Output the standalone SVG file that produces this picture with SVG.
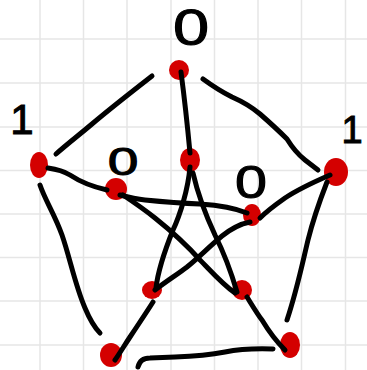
<svg xmlns="http://www.w3.org/2000/svg" width="367" height="370" viewBox="0 0 367 370">
<style>
.grid line{stroke:#e6e6e6;stroke-width:1.5}
.edge{fill:none;stroke:#000;stroke-width:5;stroke-linecap:round;stroke-linejoin:round}
.node{fill:#d40000}
.lbl{font-family:"Liberation Sans",Arial,sans-serif;fill:#000;stroke:#000;stroke-width:1;text-anchor:middle}
</style>
<rect width="367" height="370" fill="#fff"/>
<g class="grid">
<line x1="40" y1="0" x2="40" y2="370"/><line x1="83.5" y1="0" x2="83.5" y2="370"/><line x1="127" y1="0" x2="127" y2="370"/><line x1="171" y1="0" x2="171" y2="370"/><line x1="214.5" y1="0" x2="214.5" y2="370"/><line x1="258" y1="0" x2="258" y2="370"/><line x1="301.5" y1="0" x2="301.5" y2="370"/><line x1="345.5" y1="0" x2="345.5" y2="370"/>
<line x1="0" y1="39" x2="367" y2="39"/><line x1="0" y1="83" x2="367" y2="83"/><line x1="0" y1="127" x2="367" y2="127"/><line x1="0" y1="170.5" x2="367" y2="170.5"/><line x1="0" y1="214" x2="367" y2="214"/><line x1="0" y1="257.5" x2="367" y2="257.5"/><line x1="0" y1="301" x2="367" y2="301"/><line x1="0" y1="345" x2="367" y2="345"/>
</g>
<g id="labels">
<text class="lbl" font-size="50" transform="translate(191,45) scale(1.3,1)">0</text>
<text class="lbl" font-size="38" transform="translate(123,175) scale(1.45,1)">0</text>
<text class="lbl" font-size="46" transform="translate(251,198) scale(1.25,1)">0</text>
<text class="lbl" font-size="42" x="22" y="134">1</text>
<text class="lbl" font-size="38" x="352" y="143">1</text>
</g>
<g id="n-top"><ellipse class="node" cx="179" cy="70" rx="10" ry="10"/></g>
<g id="n-outer-left"><ellipse class="node" cx="39" cy="165" rx="9" ry="13"/></g>
<g id="n-outer-right"><ellipse class="node" cx="336" cy="172" rx="12" ry="14"/></g>
<g id="n-bottom-left"><ellipse class="node" cx="111" cy="355" rx="11" ry="12"/></g>
<g id="n-bottom-right"><ellipse class="node" cx="290" cy="345" rx="10" ry="13"/></g>
<g id="n-inner-top"><ellipse class="node" cx="190" cy="160" rx="10" ry="12"/></g>
<g id="n-inner-left"><ellipse class="node" cx="116" cy="189" rx="11" ry="11"/></g>
<g id="n-inner-right"><ellipse class="node" cx="252" cy="215" rx="9" ry="11"/></g>
<g id="n-inner-bottom-left"><ellipse class="node" cx="152" cy="290" rx="10" ry="9"/></g>
<g id="n-inner-bottom-right"><ellipse class="node" cx="242" cy="290" rx="10" ry="10"/></g>
<g id="connectors">
<path class="edge" d="M152,76 C125,97 105,113 92,124 S66,145 56,154"/>
<path class="edge" d="M203,79 Q218,90 232,97 Q248,104 260,114 Q276,128 287,139 Q295,152 305,160 L318,170"/>
<path class="edge" d="M181,72 Q186,110 190,153"/>
<path class="edge" d="M40,185 C45,200 55,215 62,235 C70,258 75,285 85,308 C90,320 95,328 100,333"/>
<path class="edge" d="M327,182 C320,200 313,220 308,240 C302,265 297,290 287,320"/>
<path class="edge" d="M138,367 Q140,358 150,358 L175,357 Q205,356 225,352 Q245,348 273,349"/>
<path class="edge" d="M48,168 Q62,170 70,175 Q85,185 107,190"/>
<path class="edge" d="M330,175 Q300,188 285,198 Q268,210 260,218"/>
<path class="edge" d="M190,167 C188,190 180,215 173,230 C165,250 158,270 156,288"/>
<path class="edge" d="M193,173 C198,195 208,220 215,235 C225,255 232,275 237,292"/>
<path class="edge" d="M120,195 Q135,199 145,200 Q175,203 200,204 Q230,206 247,213"/>
<path class="edge" d="M123,195 C135,203 145,210 155,218 C170,230 185,243 200,260 C210,270 222,284 235,293"/>
<path class="edge" d="M250,222 C240,224 232,228 222,236 C210,246 198,258 187,267 C178,274 168,280 155,290"/>
<path class="edge" d="M153,302 C148,310 138,325 130,337 C124,346 120,353 115,360"/>
<path class="edge" d="M247,297 C252,305 258,315 262,320 C268,330 275,340 285,350"/>
</g>
</svg>
